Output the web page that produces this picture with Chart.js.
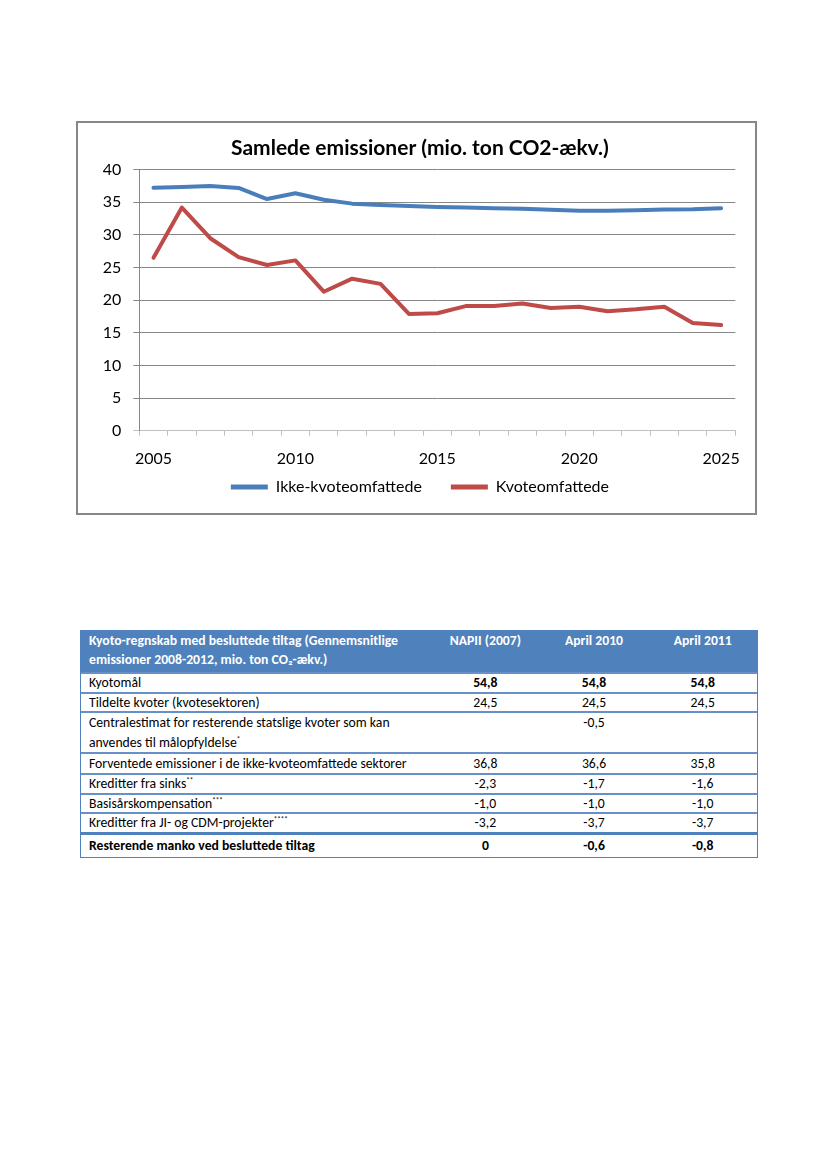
<!DOCTYPE html>
<html>
<head>
<meta charset="utf-8">
<script src="https://cdn.jsdelivr.net/npm/chart.js@4.4.0/dist/chart.umd.min.js"></script>
<style>
html,body{margin:0;padding:0;background:#fff;}
body{width:827px;height:1169px;position:relative;overflow:hidden;font-family:Carlito,Calibri,Lato,sans-serif;}
#box{position:absolute;left:76px;top:121px;width:677px;height:390px;border:2px solid #878787;background:#fff;}
#tbl{position:absolute;left:80px;top:630px;width:676px;border-collapse:separate;border-spacing:0;table-layout:fixed;font-size:13.7px;color:#000;border-left:1px solid #4F81BD;border-right:1px solid #4F81BD;border-bottom:1px solid #4F81BD;}
#tbl th{background:#4F81BD;color:#fff;font-weight:bold;vertical-align:top;line-height:19px;padding:1px 8px 3px 8px;white-space:pre-line;}
#tbl th.lab{text-align:left;}
#tbl th.num{text-align:center;padding-left:0;padding-right:0;}
#tbl td{border-top:2px solid #6890C8;padding:0 8px;vertical-align:top;white-space:pre-line;}
#tbl td.num{text-align:center;padding:0;}
#tbl tr.last td{border-top:3px solid #4F81BD;font-weight:bold;}
#tbl tr.bold td.num{font-weight:bold;}
#tbl sup{font-size:7px;line-height:0;vertical-align:5px;}
</style>
</head>
<body>
<div id="box"><canvas id="c"></canvas></div>
<table id="tbl">
<colgroup><col style="width:350px"><col style="width:108.7px"><col style="width:108.7px"><col style="width:108.7px"></colgroup>
<thead id="thead"></thead>
<tbody id="tbody"></tbody>
</table>
<script>
// ---------- chart data ----------
const years = ['2005','2006','2007','2008','2009','2010','2011','2012','2013','2014','2015',
               '2016','2017','2018','2019','2020','2021','2022','2023','2024','2025'];
const tickLabels = ['2005','2010','2015','2020','2025'];
const ikkeKvoteomfattede = [37.25,37.35,37.5,37.2,35.5,36.4,35.4,34.8,34.6,34.45,34.3,
                            34.2,34.1,34.0,33.85,33.7,33.7,33.8,33.9,33.95,34.1];
const kvoteomfattede = [26.5,34.2,29.5,26.6,25.4,26.1,21.3,23.3,22.5,17.9,18.0,
                        19.1,19.1,19.5,18.8,19.0,18.3,18.6,19.0,16.5,16.2];
const seriesNames = ['Ikke-kvoteomfattede','Kvoteomfattede'];
const chartTitle = 'Samlede emissioner (mio. ton CO2-ækv.)';

// ---------- table data ----------
const headerCells = ['Kyoto-regnskab med besluttede tiltag (Gennemsnitlige\nemissioner 2008-2012, mio. ton CO₂-ækv.)','NAPII (2007)','April 2010','April 2011'];
const rowLabels = ['Kyotomål','Tildelte kvoter (kvotesektoren)',
  'Centralestimat for resterende statslige kvoter som kan\nanvendes til målopfyldelse',
  'Forventede emissioner i de ikke-kvoteomfattede sektorer','Kreditter fra sinks',
  'Basisårskompensation','Kreditter fra JI- og CDM-projekter','Resterende manko ved besluttede tiltag'];
const rowNotes = ['','','*','','**','***','****',''];
const napii2007 = ['54,8','24,5','','36,8','-2,3','-1,0','-3,2','0'];
const april2010 = ['54,8','24,5','-0,5','36,6','-1,7','-1,0','-3,7','-0,6'];
const april2011 = ['54,8','24,5','','35,8','-1,6','-1,0','-3,7','-0,8'];
const rowLineHeights = [18,17,19.5,19,18,17,18,22];

// build table
(function(){
  const th = document.getElementById('thead');
  const tr = document.createElement('tr');
  headerCells.forEach((h,i)=>{
    const c = document.createElement('th');
    c.className = i===0 ? 'lab' : 'num';
    c.textContent = h;
    tr.appendChild(c);
  });
  th.appendChild(tr);
  const tb = document.getElementById('tbody');
  rowLabels.forEach((lab,i)=>{
    const r = document.createElement('tr');
    if (i===0) r.className='bold';
    if (i===rowLabels.length-1) r.className='last';
    const c0 = document.createElement('td');
    c0.textContent = lab;
    if (rowNotes[i]) { const s=document.createElement('sup'); s.textContent=rowNotes[i]; c0.appendChild(s); }
    r.appendChild(c0);
    [napii2007,april2010,april2011].forEach(col=>{
      const c=document.createElement('td'); c.className='num'; c.textContent=col[i]; r.appendChild(c);
    });
    Array.from(r.children).forEach(c=>{ c.style.lineHeight = rowLineHeights[i]+'px'; });
    tb.appendChild(r);
  });
})();

// let tick labels extend outside the (deliberately tight) scale boxes
const unclipLabels = {
  id:'unclipLabels',
  afterLayout(chart){
    Object.values(chart.scales).forEach(s=>{ s._computeLabelArea = function(){ return undefined; }; });
  }
};

const FONT = 'Lato';
function draw(){
  Chart.defaults.font.family = FONT;
  Chart.defaults.color = '#000';
  new Chart(document.getElementById('c'), {
    type:'line',
    data:{
      labels: years,
      datasets:[
        {label:seriesNames[0], data:ikkeKvoteomfattede, borderColor:'#4A7EBB', backgroundColor:'#4A7EBB',
         borderWidth:4, pointRadius:0, tension:0, borderCapStyle:'round', borderJoinStyle:'round'},
        {label:seriesNames[1], data:kvoteomfattede, borderColor:'#BE4B48', backgroundColor:'#BE4B48',
         borderWidth:4, pointRadius:0, tension:0, borderCapStyle:'round', borderJoinStyle:'round'}
      ]
    },
    plugins:[unclipLabels],
    options:{
      responsive:true, maintainAspectRatio:false, animation:false,
      layout:{padding:{left:26.5,right:19.7,top:0,bottom:8}},
      plugins:{
        title:{display:true, text:chartTitle, color:'#000', font:{family:FONT,size:21,weight:'bold'}, padding:{top:13,bottom:8.5}},
        legend:{position:'bottom',
          labels:{boxWidth:37, boxHeight:5, padding:29, color:'#000', font:{family:FONT,size:16},
            generateLabels:(chart)=>chart.data.datasets.map((d,i)=>({text:d.label, fillStyle:d.borderColor, strokeStyle:d.borderColor, lineWidth:0, hidden:false, datasetIndex:i, fontColor:'#000'}))}},
        tooltip:{enabled:false}
      },
      scales:{
        x:{type:'category', offset:true,
           grid:{display:true, drawOnChartArea:false, drawTicks:true, tickLength:5, offset:true, color:'#BFBFBF'},
           border:{display:true, color:'#BFBFBF'},
           ticks:{autoSkip:false, maxRotation:0, minRotation:0, padding:14, color:'#000', font:{family:FONT,size:16},
             callback:(v,i)=> (tickLabels.indexOf(years[i]) >= 0 ? years[i] : '')},
           afterFit:(s)=>{s.height=19.3;}},
        y:{min:0, max:40,
           ticks:{stepSize:5, padding:12, color:'#000', font:{family:FONT,size:16}},
           grid:{color:(ctx)=> (ctx.tick && ctx.tick.value===0) ? '#BFBFBF' : '#878787', tickLength:6},
           border:{display:true, color:'#878787'},
           afterFit:(s)=>{s.width=34.8;}}
      }
    }
  });
}
Promise.all([document.fonts.load('16px Lato'), document.fonts.load('bold 21px Lato')]).then(draw, draw);
</script>
</body>
</html>
